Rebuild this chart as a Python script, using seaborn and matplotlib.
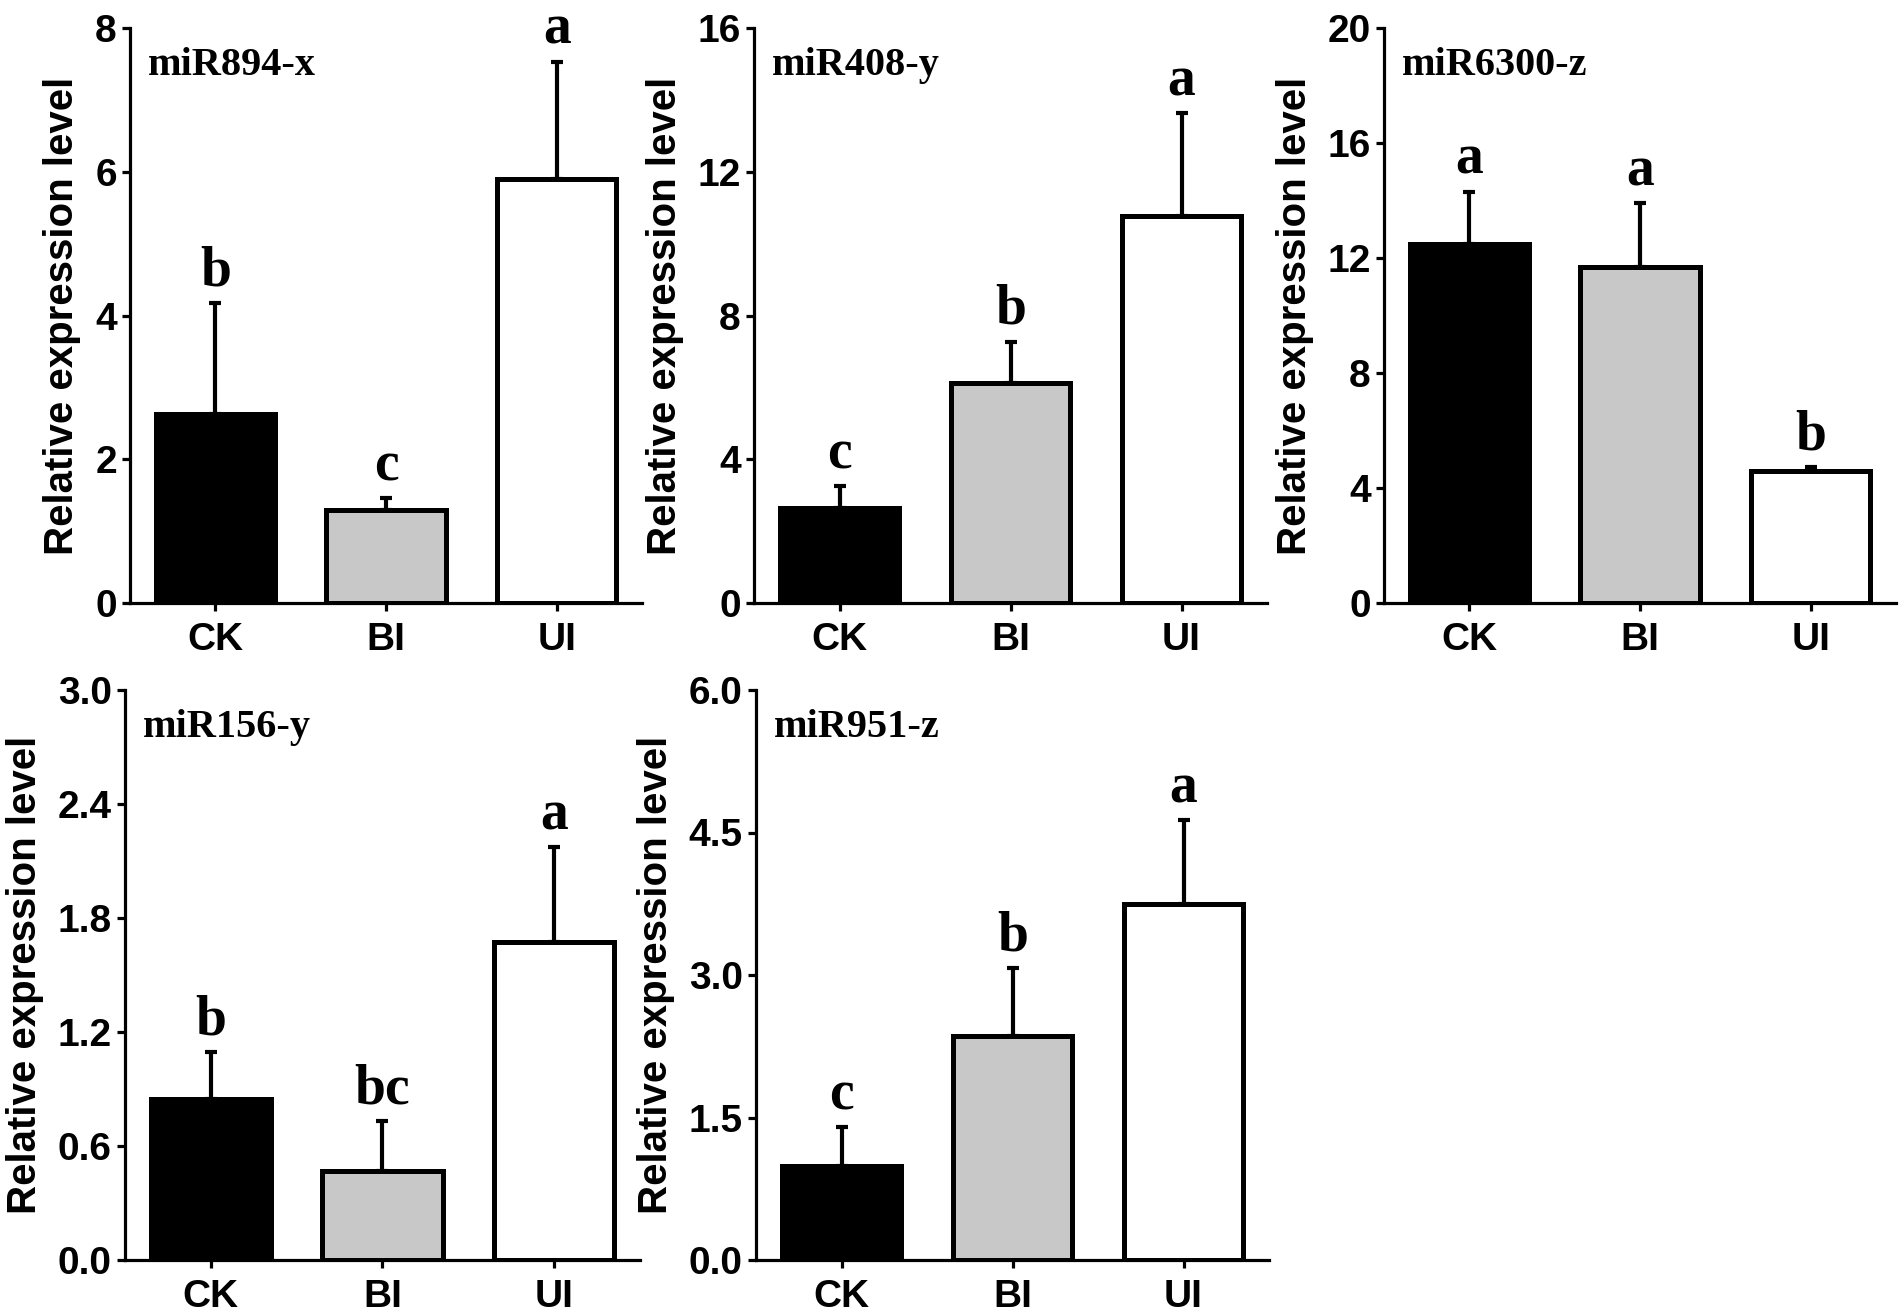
import matplotlib
matplotlib.use("Agg")
import matplotlib.pyplot as plt
import seaborn as sns
import numpy as np
import pandas as pd

# ---------------- data ----------------
groups = ["CK", "BI", "UI"]
mirnas = ["miR894-x", "miR408-y", "miR6300-z", "miR156-y", "miR951-z"]

means_894 = [2.63, 1.30, 5.90]
err_894 = [1.54, 0.16, 1.63]
letters_894 = ["b", "c", "a"]

means_408 = [2.64, 6.12, 10.77]
err_408 = [0.61, 1.15, 2.86]
letters_408 = ["c", "b", "a"]

means_6300 = [12.5, 11.7, 4.6]
err_6300 = [1.8, 2.2, 0.12]
letters_6300 = ["a", "a", "b"]

means_156 = [0.85, 0.466, 1.675]
err_156 = [0.243, 0.263, 0.497]
letters_156 = ["b", "bc", "a"]

means_951 = [0.988, 2.36, 3.75]
err_951 = [0.41, 0.71, 0.88]
letters_951 = ["c", "b", "a"]

yticks_894 = [0, 2, 4, 6, 8]
yticks_408 = [0, 4, 8, 12, 16]
yticks_6300 = [0, 4, 8, 12, 16, 20]
yticks_156 = [0.0, 0.6, 1.2, 1.8, 2.4, 3.0]
yticks_951 = [0.0, 1.5, 3.0, 4.5, 6.0]

bar_colors = ["#000000", "#c8c8c8", "#ffffff"]
ylabel = "Relative expression level"

panels = [
    (mirnas[0], means_894, err_894, letters_894, yticks_894, "{:.0f}"),
    (mirnas[1], means_408, err_408, letters_408, yticks_408, "{:.0f}"),
    (mirnas[2], means_6300, err_6300, letters_6300, yticks_6300, "{:.0f}"),
    (mirnas[3], means_156, err_156, letters_156, yticks_156, "{:.1f}"),
    (mirnas[4], means_951, err_951, letters_951, yticks_951, "{:.1f}"),
]

# ---------------- style ----------------
sns.set_theme(style="ticks")
plt.rcParams["font.family"] = ["Liberation Sans", "DejaVu Sans"]
plt.rcParams.update({
    "axes.linewidth": 2.3,
    "text.color": "black",
    "axes.labelcolor": "black",
    "axes.edgecolor": "black",
    "xtick.color": "black",
    "ytick.color": "black",
    "xtick.labelcolor": "black",
    "ytick.labelcolor": "black",
})

W, H = 1902, 1313
fig = plt.figure(figsize=(W / 100, H / 100), dpi=100)

# axes rectangles in pixels: (left, top, width, height)
rects_px = [
    (130, 28, 512, 575),
    (754, 28, 513, 575),
    (1384, 28, 512, 575),
    (125, 690, 515, 570),
    (756, 690, 513, 570),
]

serif = ["Liberation Serif", "DejaVu Serif"]

for (name, means, errs, letters, yticks, fmt), (l, t, w, h) in zip(panels, rects_px):
    ax = fig.add_axes([l / W, 1 - (t + h) / H, w / W, h / H])
    df = pd.DataFrame({"group": groups, "value": means})
    sns.barplot(data=df, x="group", y="value", hue="group", order=groups,
                hue_order=groups, palette=bar_colors, dodge=False, legend=False,
                errorbar=None, width=0.7, edgecolor="black", linewidth=3.6,
                ax=ax, zorder=3)
    xs = np.arange(len(groups))
    ax.errorbar(xs, means, yerr=[np.zeros(len(errs)), errs], fmt="none",
                ecolor="black", elinewidth=3.0, capsize=4.5, capthick=3.0,
                zorder=2)
    for xi, m, e, lab in zip(xs, means, errs, letters):
        ax.annotate(lab, (xi, m + e), xytext=(0, 13), textcoords="offset points",
                    ha="center", va="baseline", fontsize=40, fontweight="bold",
                    family=serif, color="black", annotation_clip=False)
    ax.set_xlim(-0.5, 2.5)
    ax.set_ylim(yticks[0], yticks[-1])
    ax.set_yticks(yticks)
    ax.set_yticklabels([fmt.format(v) for v in yticks])
    ax.set_xlabel("")
    ax.set_ylabel(ylabel, fontsize=29, fontweight="bold", labelpad=10,
                  color="black")
    ax.tick_params(axis="both", which="major", direction="out", length=5.5,
                   width=2.3, labelsize=28, color="black", labelcolor="black")
    ax.tick_params(axis="x", pad=8)
    ax.tick_params(axis="y", pad=4)
    for lbl in ax.get_xticklabels() + ax.get_yticklabels():
        lbl.set_fontweight("bold")
    sns.despine(ax=ax, top=True, right=True)
    ax.spines["left"].set_color("black")
    ax.spines["bottom"].set_color("black")
    ax.text(0.035, 0.935, name, transform=ax.transAxes, ha="left", va="center",
            fontsize=29, fontweight="bold", family=serif, color="black")
    ax.set_facecolor("white")

fig.savefig("out.png", dpi=100, facecolor="white")
